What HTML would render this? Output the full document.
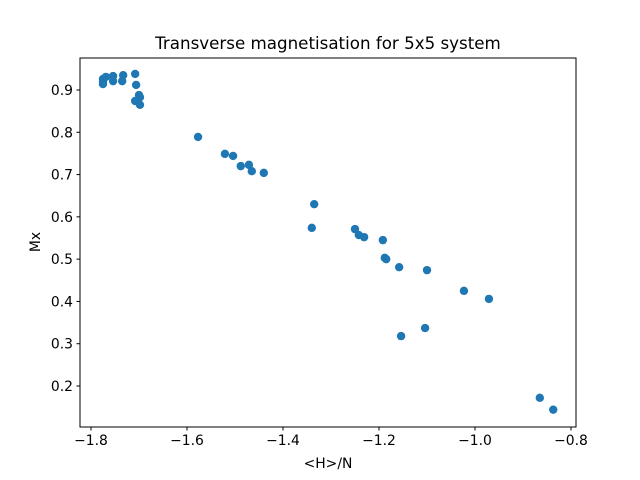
<!DOCTYPE html>
<html><head><meta charset="utf-8"><style>
body{margin:0;background:#fff;}
svg{display:block;font-family:"DejaVu Sans","Liberation Sans",sans-serif;}
</style></head><body>
<svg id="chart" width="640" height="480">
<rect width="640" height="480" fill="#fff"/>
<text x="328" y="49" font-size="16.7" text-anchor="middle">Transverse magnetisation for 5x5 system</text>
<text x="328" y="468" font-size="13.9" text-anchor="middle">&lt;H&gt;/N</text>
<text transform="translate(40,242) rotate(-90)" font-size="13.9" text-anchor="middle">Mx</text>
<g id="marks"></g>
<g id="axes"></g>
<rect x="80" y="58" width="496" height="369" fill="none" stroke="#000" stroke-width="1"/>
</svg>
<script>
const xValues=[-1.775,-1.775,-1.769,-1.754,-1.733,-1.708,-1.775,-1.754,-1.735,-1.706,-1.700,-1.698,-1.708,-1.698,-1.577,-1.521,-1.504,-1.488,-1.471,-1.465,-1.440,-1.335,-1.340,-1.250,-1.242,-1.231,-1.192,-1.188,-1.185,-1.158,-1.100,-1.023,-0.971,-1.104,-1.154,-0.865,-0.837];
const yValues=[0.926,0.919,0.931,0.933,0.935,0.938,0.914,0.921,0.921,0.912,0.888,0.883,0.874,0.865,0.789,0.749,0.744,0.720,0.723,0.708,0.704,0.630,0.574,0.571,0.557,0.552,0.545,0.503,0.500,0.481,0.474,0.425,0.406,0.337,0.318,0.172,0.144];
const xTicks=[-1.8,-1.6,-1.4,-1.2,-1.0,-0.8];
const yTicks=[0.2,0.3,0.4,0.5,0.6,0.7,0.8,0.9];
const NS="http://www.w3.org/2000/svg";
function sx(v){return 91+(v+1.8)*480;}
function sy(v){return 90+(0.9-v)*422.86;}
const marks=document.getElementById('marks');
xValues.forEach((x,i)=>{
  const c=document.createElementNS(NS,'circle');
  c.setAttribute('cx',sx(x));c.setAttribute('cy',sy(yValues[i]));
  c.setAttribute('r',4.2);c.setAttribute('fill','#1f77b4');
  
  
  marks.appendChild(c);
});
const axes=document.getElementById('axes');
function fmt(v,d){return v.toFixed(d).replace('-','\u2212');}
xTicks.forEach(t=>{
  const x=sx(t);
  const l=document.createElementNS(NS,'line');
  l.setAttribute('x1',x);l.setAttribute('x2',x);l.setAttribute('y1',427);l.setAttribute('y2',430.5);l.setAttribute('stroke','#000');
  
  
  axes.appendChild(l);
  const tx=document.createElementNS(NS,'text');
  tx.setAttribute('x',x);tx.setAttribute('y',445);tx.setAttribute('font-size','13.9');tx.setAttribute('text-anchor','middle');
  tx.textContent=fmt(t,1);
  
  
  axes.appendChild(tx);
});
yTicks.forEach(t=>{
  const y=sy(t);
  const l=document.createElementNS(NS,'line');
  l.setAttribute('x1',76.5);l.setAttribute('x2',80);l.setAttribute('y1',y);l.setAttribute('y2',y);l.setAttribute('stroke','#000');
  
  
  axes.appendChild(l);
  const tx=document.createElementNS(NS,'text');
  tx.setAttribute('x',73);tx.setAttribute('y',y+5);tx.setAttribute('font-size','13.9');tx.setAttribute('text-anchor','end');
  tx.textContent=fmt(t,1);
  
  
  axes.appendChild(tx);
});
</script>
</body></html>
